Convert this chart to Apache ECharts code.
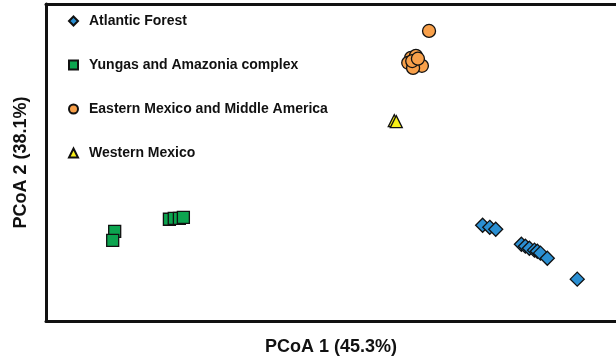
<!DOCTYPE html>
<html>
<head>
<meta charset="utf-8">
<script src="https://cdn.jsdelivr.net/npm/echarts@6/dist/echarts.min.js"></script>
<style>
html, body { margin: 0; padding: 0; background: #fff; }
#chart { width: 616px; height: 361px; }
</style>
</head>
<body>
<div id="chart"></div>
<script>
// PCoA scores (arbitrary units, both axes -1..1)
var atlanticForest = [
    [0.532, -0.396], [0.557, -0.409], [0.578, -0.421],
    [0.668, -0.516], [0.682, -0.528], [0.696, -0.541],
    [0.714, -0.553], [0.724, -0.560], [0.735, -0.572],
    [0.759, -0.604], [0.864, -0.736]
];
var yungasAmazonia = [
    [-0.759, -0.434], [-0.766, -0.491],
    [-0.567, -0.358], [-0.550, -0.352], [-0.532, -0.352], [-0.518, -0.346]
];
var easternMexico = [
    [0.344, 0.830], [0.281, 0.660], [0.271, 0.629], [0.295, 0.648],
    [0.309, 0.623], [0.319, 0.610], [0.288, 0.597], [0.298, 0.673],
    [0.285, 0.640], [0.305, 0.655]
];
var westernMexico = [
    [0.222, 0.264], [0.229, 0.258]
];

var chart = echarts.init(document.getElementById('chart'));

var fontFamily = 'Arial, "Liberation Sans", sans-serif';
var frameLine = { show: true, onZero: false, lineStyle: { color: '#111', width: 3 } };

function series(name, data, symbol, size, color) {
    return {
        name: name,
        type: 'scatter',
        data: data,
        symbol: symbol,
        symbolSize: size,
        itemStyle: {
            color: color,
            borderColor: '#111',
            borderWidth: 1.3,
            opacity: 1
        },
        emphasis: { disabled: true }
    };
}

var axisName = {
    fontFamily: fontFamily,
    fontWeight: 'bold',
    fontSize: 18,
    color: '#111'
};

var option = {
    animation: false,
    backgroundColor: '#fff',
    grid: {
        left: 46,
        top: 4,
        right: -3,
        bottom: 39
    },
    legend: {
        orient: 'vertical',
        left: 68,
        top: 14,
        padding: 0,
        itemGap: 30,
        itemWidth: 9,
        itemHeight: 9,
        textStyle: {
            fontFamily: fontFamily,
            fontWeight: 'bold',
            fontSize: 14,
            color: '#111',
            padding: [0, 0, 0, 6]
        },
        data: ['Atlantic Forest', 'Yungas and Amazonia complex',
               'Eastern Mexico and Middle America', 'Western Mexico']
    },
    xAxis: [
        {
            type: 'value',
            position: 'bottom',
            min: -1,
            max: 1,
            name: 'PCoA 1 (45.3%)',
            nameLocation: 'middle',
            nameGap: 17,
            nameTextStyle: axisName,
            axisLine: frameLine,
            axisTick: { show: false },
            axisLabel: { show: false },
            splitLine: { show: false }
        },
        {
            type: 'value',
            position: 'top',
            min: -1,
            max: 1,
            axisLine: frameLine,
            axisTick: { show: false },
            axisLabel: { show: false },
            splitLine: { show: false }
        }
    ],
    yAxis: {
        type: 'value',
        min: -1,
        max: 1,
        name: 'PCoA 2 (38.1%)',
        nameLocation: 'middle',
        nameGap: 16,
        nameTextStyle: axisName,
        axisLine: frameLine,
        axisTick: { show: false },
        axisLabel: { show: false },
        splitLine: { show: false }
    },
    series: [
        series('Atlantic Forest', atlanticForest, 'diamond', 14, '#2a8fd2'),
        series('Yungas and Amazonia complex', yungasAmazonia, 'rect', 12, '#0ca44f'),
        series('Eastern Mexico and Middle America', easternMexico, 'circle', 13, '#f8a04a'),
        series('Western Mexico', westernMexico, 'triangle', 12, '#f8f018')
    ]
};

chart.setOption(option);
window.addEventListener('resize', chart.resize);
</script>
</body>
</html>
